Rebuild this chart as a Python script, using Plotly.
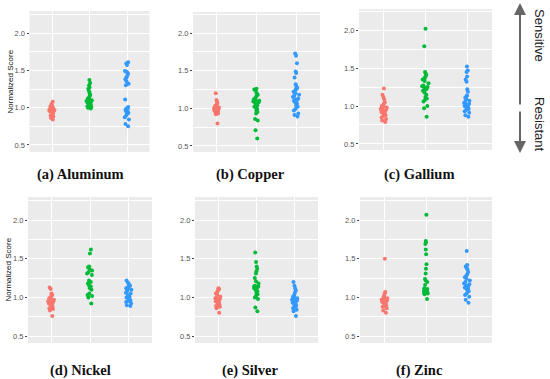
import plotly.graph_objects as go

W, H = 550, 379

groups = ["Group 1", "Group 2", "Group 3"]
colors = ["#F8766D", "#00BA38", "#3399FF"]
captions = ["(a) Aluminum", "(b) Copper", "(c) Gallium", "(d) Nickel", "(e) Silver", "(f) Zinc"]
y_tick_vals = [0.5, 1.0, 1.5, 2.0]
y_tick_text = ["0.5", "1.0", "1.5", "2.0"]

# ---- data (normalized scores) ----
aluminum_g1 = [1.08, 1.05, 1.03, 1.02, 1.01, 1.00, 0.99, 0.99, 0.98, 0.97, 0.97, 0.96, 0.96, 0.95,
               0.95, 0.94, 0.93, 0.92, 0.90, 0.89, 0.88, 0.86, 0.84, 0.98, 1.00, 0.96, 0.94]
aluminum_g2 = [1.37, 1.33, 1.30, 1.27, 1.25, 1.22, 1.19, 1.17, 1.15, 1.13, 1.12, 1.11, 1.10, 1.10,
               1.09, 1.09, 1.08, 1.08, 1.07, 1.07, 1.06, 1.05, 1.04, 1.03, 1.02, 1.01, 1.00, 0.99]
aluminum_g3 = [1.61, 1.59, 1.57, 1.49, 1.48, 1.47, 1.45, 1.42, 1.40, 1.38, 1.35, 1.32, 1.30, 1.11,
               1.01, 0.99, 0.98, 0.97, 0.95, 0.94, 0.93, 0.93, 0.90, 0.87, 0.84, 0.78, 0.75]

copper_g1 = [1.20, 1.11, 1.09, 1.07, 1.05, 1.04, 1.03, 1.02, 1.01, 1.00, 1.00, 0.99, 0.98, 0.98,
             0.97, 0.97, 0.96, 0.96, 0.95, 0.95, 0.94, 0.93, 0.92, 0.80]
copper_g2 = [1.26, 1.25, 1.23, 1.20, 1.18, 1.16, 1.14, 1.12, 1.11, 1.10, 1.10, 1.09, 1.08, 1.06,
             1.04, 1.02, 1.01, 0.99, 0.97, 0.95, 0.93, 0.86, 0.84, 0.71, 0.60]
copper_g3 = [1.73, 1.70, 1.60, 1.49, 1.47, 1.41, 1.32, 1.29, 1.27, 1.26, 1.24, 1.22, 1.20, 1.18,
             1.17, 1.15, 1.13, 1.12, 1.11, 1.10, 1.08, 1.06, 1.04, 1.02, 0.99, 0.97, 0.93, 0.91, 0.89]

gallium_g1 = [1.23, 1.15, 1.12, 1.09, 1.05, 1.03, 1.01, 1.00, 0.99, 0.98, 0.97, 0.96, 0.95, 0.94,
              0.93, 0.92, 0.91, 0.90, 0.89, 0.88, 0.87, 0.85, 0.83, 0.81, 0.79]
gallium_g2 = [2.02, 1.79, 1.45, 1.43, 1.41, 1.39, 1.37, 1.35, 1.33, 1.30, 1.27, 1.26, 1.25, 1.24,
              1.22, 1.20, 1.18, 1.15, 1.12, 1.10, 1.08, 1.06, 1.00, 0.97, 0.86]
gallium_g3 = [1.52, 1.47, 1.45, 1.39, 1.35, 1.32, 1.22, 1.19, 1.14, 1.13, 1.11, 1.09, 1.07, 1.06,
              1.04, 1.03, 1.02, 1.01, 1.00, 0.99, 0.98, 0.97, 0.96, 0.95, 0.93, 0.91, 0.88, 0.86]

nickel_g1 = [1.13, 1.11, 1.05, 1.03, 1.02, 1.00, 0.99, 0.98, 0.97, 0.96, 0.95, 0.94, 0.93, 0.93,
             0.92, 0.91, 0.90, 0.89, 0.88, 0.87, 0.86, 0.85, 0.83, 0.76]
nickel_g2 = [1.62, 1.57, 1.40, 1.39, 1.37, 1.35, 1.33, 1.31, 1.29, 1.22, 1.20, 1.18, 1.15, 1.14,
             1.12, 1.10, 1.05, 1.03, 1.02, 1.00, 0.92]
nickel_g3 = [1.22, 1.19, 1.17, 1.15, 1.14, 1.13, 1.12, 1.11, 1.10, 1.08, 1.06, 1.05, 1.03, 1.01,
             1.00, 0.99, 0.98, 0.97, 0.96, 0.95, 0.94, 0.92, 0.90, 0.89]

silver_g1 = [1.12, 1.11, 1.09, 1.07, 1.05, 1.03, 1.01, 1.00, 0.99, 0.98, 0.97, 0.96, 0.95, 0.94,
             0.93, 0.92, 0.91, 0.90, 0.89, 0.88, 0.86, 0.80]
silver_g2 = [1.58, 1.46, 1.40, 1.37, 1.34, 1.31, 1.25, 1.21, 1.18, 1.15, 1.14, 1.14, 1.13, 1.13,
             1.12, 1.10, 1.08, 1.06, 1.04, 1.02, 1.00, 0.98, 0.87, 0.82]
silver_g3 = [1.20, 1.15, 1.12, 1.09, 1.06, 1.03, 1.01, 1.00, 0.99, 0.98, 0.97, 0.96, 0.95, 0.94,
             0.93, 0.92, 0.91, 0.90, 0.89, 0.88, 0.86, 0.84, 0.82, 0.76]

zinc_g1 = [1.50, 1.07, 1.05, 1.03, 1.01, 1.00, 0.99, 0.98, 0.97, 0.96, 0.95, 0.95, 0.94, 0.93,
           0.92, 0.91, 0.90, 0.89, 0.88, 0.86, 0.83, 0.80]
zinc_g2 = [2.07, 1.73, 1.71, 1.69, 1.62, 1.56, 1.43, 1.37, 1.31, 1.24, 1.22, 1.20, 1.16, 1.12,
           1.11, 1.10, 1.09, 1.09, 1.08, 1.08, 1.07, 1.07, 1.06, 1.06, 1.05, 1.04, 0.98]
zinc_g3 = [1.60, 1.42, 1.40, 1.38, 1.36, 1.33, 1.30, 1.28, 1.26, 1.24, 1.22, 1.20, 1.18, 1.17,
           1.15, 1.14, 1.13, 1.12, 1.11, 1.10, 1.08, 1.05, 1.03, 1.01, 0.97, 0.93]

panel_data = [
    [aluminum_g1, aluminum_g2, aluminum_g3],
    [copper_g1, copper_g2, copper_g3],
    [gallium_g1, gallium_g2, gallium_g3],
    [nickel_g1, nickel_g2, nickel_g3],
    [silver_g1, silver_g2, silver_g3],
    [zinc_g1, zinc_g2, zinc_g3],
]

# ---- layout geometry (pixels: left, top, right, bottom) ----
boxes = [
    (29.5, 11, 149.5, 152),
    (193, 12, 320, 152),
    (359, 9, 492, 150),
    (28, 197, 152, 343),
    (195, 197, 318, 343),
    (360, 197, 492, 343),
]
yranges = [
    (0.406, 2.295),
    (0.42, 2.28),
    (0.42, 2.28),
    (0.41, 2.30),
    (0.41, 2.30),
    (0.41, 2.30),
]
caption_pos = [(80, 174), (250, 174), (419, 174), (80, 370), (250, 370), (419, 370)]

fig = go.Figure()
layout = {}
for i, (data, box, yr) in enumerate(zip(panel_data, boxes, yranges)):
    n = "" if i == 0 else str(i + 1)
    xa, ya = "x" + n, "y" + n
    for g, vals, col in zip(groups, data, colors):
        fig.add_trace(go.Box(
            y=vals, x=[g] * len(vals), name=g, xaxis=xa, yaxis=ya,
            boxpoints="all", jitter=0.55, pointpos=0, width=0.3,
            marker=dict(color=col, size=4, line=dict(width=0)),
            line=dict(width=0, color="rgba(0,0,0,0)"),
            fillcolor="rgba(0,0,0,0)", showlegend=False, hoveron="points",
        ))
    l, t, r, b = box
    layout["xaxis" + n] = dict(
        domain=[l / W, r / W], anchor=ya, type="category",
        categoryorder="array", categoryarray=groups, range=[-0.6, 2.6],
        showticklabels=False, ticks="", showgrid=True, gridcolor="white",
        gridwidth=1, zeroline=False, showline=False, fixedrange=True,
    )
    layout["yaxis" + n] = dict(
        domain=[1 - b / H, 1 - t / H], anchor=xa, range=list(yr),
        tickmode="array", tickvals=y_tick_vals, ticktext=y_tick_text,
        ticks="outside", ticklen=2, tickwidth=1, tickcolor="#444",
        tickfont=dict(family="Liberation Sans, Arial", size=7.5, color="#555"),
        showgrid=True, gridcolor="white", gridwidth=1,
        minor=dict(tickvals=[0.75, 1.25, 1.75, 2.25], showgrid=True,
                   gridcolor="white", gridwidth=0.5, ticks=""),
        zeroline=False, showline=False, fixedrange=True,
    )

annotations = []
for cap, (cx, cy) in zip(captions, caption_pos):
    annotations.append(dict(
        text="<b>" + cap + "</b>", x=cx / W, y=1 - cy / H, xref="paper", yref="paper",
        xanchor="center", yanchor="middle", showarrow=False,
        font=dict(family="Liberation Serif, Times New Roman, serif", size=14.5, color="#111"),
    ))
for lx, ly in [(10.5, 82), (7.5, 270)]:
    annotations.append(dict(
        text="Normalized Score", x=lx / W, y=1 - ly / H, xref="paper", yref="paper",
        xanchor="center", yanchor="middle", showarrow=False, textangle=-90,
        font=dict(family="Liberation Sans, Arial", size=8, color="#111"),
    ))
# arrow (two heads with a small gap in the middle)
annotations.append(dict(
    x=520 / W, y=1 - 3 / H, ax=0, ay=103, xref="paper", yref="paper",
    axref="pixel", ayref="pixel", text="", showarrow=True, arrowhead=2,
    arrowsize=1.2, arrowwidth=2, arrowcolor="#666",
))
annotations.append(dict(
    x=520 / W, y=1 - 153 / H, ax=0, ay=-43, xref="paper", yref="paper",
    axref="pixel", ayref="pixel", text="", showarrow=True, arrowhead=2,
    arrowsize=1.2, arrowwidth=2, arrowcolor="#666",
))
for txt, cy in [("Sensitive", 35), ("Resistant", 124)]:
    annotations.append(dict(
        text=txt, x=539 / W, y=1 - cy / H, xref="paper", yref="paper",
        xanchor="center", yanchor="middle", showarrow=False, textangle=90,
        font=dict(family="Liberation Sans, Arial", size=13, color="#222"),
    ))

fig.update_layout(
    width=W, height=H, margin=dict(l=0, r=0, t=0, b=0),
    paper_bgcolor="white", plot_bgcolor="#EBEBEB",
    boxmode="overlay", annotations=annotations, **layout,
)

fig.write_html("out.html", config={"displayModeBar": False},
               post_script="document.body.style.margin='0px';")
